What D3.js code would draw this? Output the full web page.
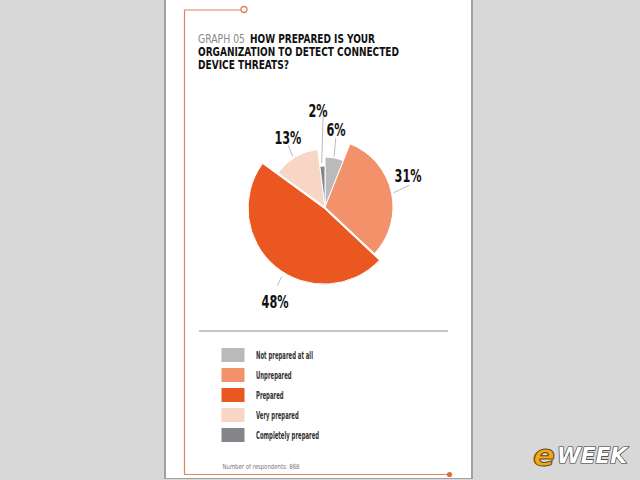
<!DOCTYPE html>
<html><head><meta charset="utf-8">
<script src="https://cdn.jsdelivr.net/npm/d3@7"></script>
<style>
html,body{margin:0;padding:0;background:#d8d8d8;}
svg{display:block;}
text{font-family:"DejaVu Sans Condensed","DejaVu Sans",sans-serif;font-stretch:condensed;}
</style></head>
<body>
<svg id="chart" width="640" height="480"></svg>
<script>
// ---- data ----
const categories = ["Not prepared at all","Unprepared","Prepared","Very prepared","Completely prepared"];
const values = [6, 31, 48, 13, 2];
const valueLabels = ["6%","31%","48%","13%","2%"];
const titlePrefix = "GRAPH 05";
const titleLines = ["HOW PREPARED IS YOUR","ORGANIZATION TO DETECT CONNECTED","DEVICE THREATS?"];
const footnote = "Number of respondents: 868";

// ---- styles / layout ----
const colors = ["#b9babc","#f2916a","#ea5720","#f9d5c5","#848588"];
const outerR = [50, 68, 76, 58, 41];
const explode = [0, 0, 1.5, 0, 0];
// label polar positions [angleDeg, radius]
const labelPos = [[8.1,77.8],[69,89],[207.8,107],[332,79],[355.9,97]];
// leader lines [a1,r1,a2,r2]
const leaders = [[10.2,51,8.9,70],[78.3,70,75.5,87],[211.9,82,211.2,92],[327.4,60,329.2,72],[355.7,44,358.8,91]];

const svg = d3.select("#chart");
const W = 640, H = 480;

// page with shadow
svg.append("rect").attr("width",W).attr("height",H).attr("fill","#d8d8d8");
svg.append("rect").attr("x",164).attr("y",0).attr("width",309).attr("height",479).attr("fill","#8a8a8a").attr("opacity",0.7);
svg.append("rect").attr("x",166).attr("y",0).attr("width",305).attr("height",478).attr("fill","#ffffff");

// orange frame line
const orange = "#e0835f";
svg.append("path")
  .attr("d", d3.line()([[241,10],[184.5,10],[184.5,474.5],[449,474.5]]))
  .attr("fill","none").attr("stroke",orange).attr("stroke-width",1.2);
svg.append("circle").attr("cx",244).attr("cy",9.5).attr("r",3).attr("fill","#fff").attr("stroke",orange).attr("stroke-width",1.3);
svg.append("circle").attr("cx",449.5).attr("cy",474.5).attr("r",2.6).attr("fill","#e06a40");

// title
svg.append("text").attr("x",198).attr("y",42.5)
  .attr("font-size",11.5).attr("fill","#8a8a8a")
  .attr("textLength",47).attr("lengthAdjust","spacingAndGlyphs").text(titlePrefix);
const titleX = [250, 198, 198];
const titleWidths = [125, 201, 91];
titleLines.forEach((line,i)=>{
  svg.append("text").attr("x",titleX[i]).attr("y",42.5 + i*13.4)
    .attr("font-size",11.5).attr("font-weight","bold").attr("fill","#111")
    .attr("textLength",titleWidths[i]).attr("lengthAdjust","spacingAndGlyphs")
    .text(line);
});

// pie
const cx = 325, cy = 207;
const pie = d3.pie().sort(null).value(d=>d).startAngle(0).endAngle(2*Math.PI);
const arcs = pie(values);
const g = svg.append("g").attr("transform",`translate(${cx},${cy})`);
const rad = a => a*Math.PI/180;
const polar = (aDeg,r) => [Math.sin(rad(aDeg))*r, -Math.cos(rad(aDeg))*r];

g.selectAll("path.slice").data(arcs).join("path")
  .attr("class","slice")
  .attr("transform",(d,i)=>{
    const m=(d.startAngle+d.endAngle)/2;
    return `translate(${Math.sin(m)*explode[i]},${-Math.cos(m)*explode[i]})`;
  })
  .attr("d",(d,i)=>d3.arc().innerRadius(0).outerRadius(outerR[i])(d))
  .attr("fill",(d,i)=>colors[i])
  .attr("stroke","#fff").attr("stroke-width",1);

// leader lines
g.selectAll("line.leader").data(leaders).join("line")
  .attr("class","leader")
  .attr("x1",d=>polar(d[0],d[1])[0]).attr("y1",d=>polar(d[0],d[1])[1])
  .attr("x2",d=>polar(d[2],d[3])[0]).attr("y2",d=>polar(d[2],d[3])[1])
  .attr("stroke","#a8a8a8").attr("stroke-width",0.8);

// value labels
const vl = g.selectAll("text.val").data(valueLabels).join("text")
  .attr("class","val")
  .attr("x",(d,i)=>polar(labelPos[i][0],labelPos[i][1])[0])
  .attr("y",(d,i)=>polar(labelPos[i][0],labelPos[i][1])[1])
  .attr("text-anchor","middle").attr("dominant-baseline","central")
  .attr("font-size",18).attr("font-weight","bold").attr("fill","#111")
  .text(d=>d);
let refW = null;
vl.each(function(d){ if(d==="13%") refW = this.getComputedTextLength(); });
const kVal = 27/refW;
vl.each(function(){ const w=this.getComputedTextLength(); d3.select(this).attr("textLength",w*kVal).attr("lengthAdjust","spacingAndGlyphs"); });

// separator
svg.append("line").attr("x1",199).attr("x2",448).attr("y1",331).attr("y2",331)
  .attr("stroke","#8c8c8c").attr("stroke-width",1);

// legend
const lg = svg.append("g");
const rows = lg.selectAll("g").data(categories).join("g")
  .attr("transform",(d,i)=>`translate(221.5,${348+i*20})`);
rows.append("rect").attr("width",23).attr("height",14).attr("fill",(d,i)=>colors[i]);
const lt = rows.append("text").attr("x",34.5).attr("y",7).attr("dominant-baseline","central")
  .attr("font-size",11).attr("font-weight","bold").attr("fill","#333").text(d=>d);
let refL=null;
lt.each(function(d,i){ if(i===0) refL=this.getComputedTextLength(); });
const kL = 57/refL;
lt.each(function(){ const w=this.getComputedTextLength(); d3.select(this).attr("textLength",w*kL).attr("lengthAdjust","spacingAndGlyphs"); });

// footnote
svg.append("text").attr("x",222.5).attr("y",469).attr("font-size",7).attr("fill","#777")
  .attr("textLength",77).attr("lengthAdjust","spacingAndGlyphs").text(footnote);

// eWEEK logo
const logo = svg.append("g");
logo.append("text").attr("x",533).attr("y",466).attr("font-family","DejaVu Sans").attr("font-weight","bold").attr("font-style","italic")
  .attr("font-size",30).attr("fill","#f2a81d").attr("stroke","#6a4a10").attr("stroke-width",1)
  .attr("textLength",22).attr("lengthAdjust","spacingAndGlyphs").text("e");
logo.append("text").attr("x",557).attr("y",463).attr("font-family","DejaVu Sans").attr("font-weight","bold").attr("font-style","italic")
  .attr("font-size",22).attr("fill","#ffffff").attr("stroke","#333").attr("stroke-width",1.2).attr("paint-order","stroke")
  .attr("textLength",70).attr("lengthAdjust","spacingAndGlyphs").text("WEEK");
</script>
</body></html>
